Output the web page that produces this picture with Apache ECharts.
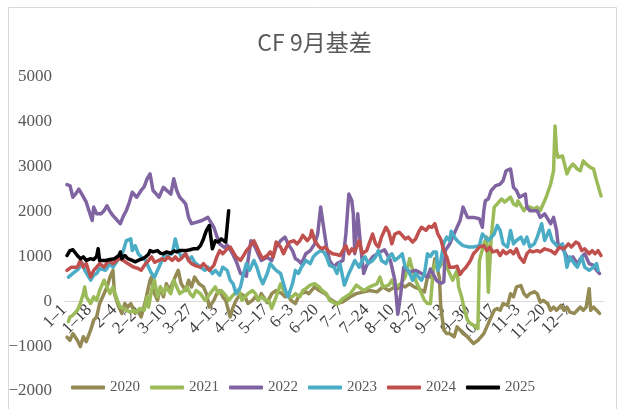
<!DOCTYPE html>
<html><head><meta charset="utf-8">
<script src="https://cdn.jsdelivr.net/npm/echarts@6/dist/echarts.min.js"></script>
<style>html,body{margin:0;padding:0;background:#fff}#c{width:629px;height:409px}</style>
</head><body><div id="c"></div>
<script>
// Category axis: every day of the year, labelled M-D
const monthDays = [31,28,31,30,31,30,31,31,30,31,30,31];
const categories = [];
monthDays.forEach((n, m) => { for (let d = 1; d <= n; d++) categories.push((m + 1) + '-' + d); });

const seriesNames = ['2020', '2021', '2022', '2023', '2024', '2025'];
const yMin = -2000, yMax = 5000, yStep = 1000;

// [day-of-year index, basis value]
const d2020 = [[2,-800],[4,-870],[6,-720],[9,-870],[11,-1010],[13,-790],[15,-900],[18,-640],[20,-420],[22,-350],[24,-50],[27,170],[29,320],[31,540],[33,690],[34,170],[37,-130],[39,-270],[41,-50],[43,-130],[45,-50],[48,-270],[50,-200],[52,-350],[55,20],[57,320],[58,470],[59,540],[61,170],[63,20],[65,320],[67,100],[69,390],[71,240],[74,470],[76,620],[77,690],[79,390],[82,240],[84,470],[86,320],[88,540],[91,390],[94,320],[96,170],[98,-130],[101,20],[103,170],[105,240],[107,100],[109,20],[112,-350],[114,-130],[116,20],[119,170],[122,100],[124,-50],[127,20],[129,100],[131,20],[133,170],[137,-30],[140,170],[143,240],[147,170],[149,100],[151,130],[153,20],[156,-50],[158,100],[160,170],[163,210],[165,170],[169,320],[172,240],[176,170],[179,60],[184,-50],[188,-10],[193,100],[197,170],[202,210],[206,240],[211,210],[215,320],[219,240],[223,320],[225,280],[228,360],[230,320],[233,390],[236,320],[239,280],[243,210],[245,540],[248,540],[250,950],[253,540],[254,-130],[256,-640],[258,-720],[260,-720],[263,-790],[265,-570],[267,-640],[269,-720],[272,-790],[274,-870],[276,-940],[279,-870],[283,-720],[285,-570],[287,-420],[290,-200],[292,-160],[294,-200],[296,-50],[299,-90],[301,170],[303,100],[305,320],[308,350],[310,170],[312,100],[314,170],[317,210],[319,170],[321,-20],[323,20],[326,-50],[328,-200],[330,-130],[332,-200],[335,-90],[337,-200],[339,-130],[341,-240],[344,-270],[346,-200],[348,-130],[350,-200],[352,-130],[354,280],[355,-200],[357,-130],[359,-200],[361,-270]];

const d2021 = [[3,-450],[4,-350],[6,-310],[9,-200],[11,-50],[13,170],[14,320],[15,100],[18,-50],[20,100],[22,20],[24,240],[27,470],[29,320],[31,170],[33,320],[36,20],[38,-130],[40,-160],[42,-200],[45,-240],[47,-200],[49,-240],[51,-160],[54,-200],[56,100],[57,-130],[59,240],[61,470],[63,100],[65,320],[67,170],[69,320],[72,170],[74,470],[76,320],[78,170],[81,240],[83,320],[85,170],[87,100],[89,240],[92,170],[95,20],[97,100],[100,240],[102,320],[104,170],[106,240],[109,130],[111,20],[113,100],[115,170],[118,240],[120,20],[122,100],[124,170],[127,240],[129,170],[131,20],[133,100],[136,20],[138,20],[140,-160],[141,-200],[143,100],[146,390],[148,240],[150,170],[152,100],[154,100],[156,170],[159,100],[161,240],[163,280],[166,360],[169,390],[172,320],[174,240],[177,170],[179,20],[184,-70],[188,60],[193,170],[197,360],[202,240],[206,320],[211,390],[213,540],[215,320],[219,360],[221,470],[223,320],[227,390],[230,540],[233,950],[235,690],[237,470],[239,320],[241,170],[243,20],[245,-50],[247,-50],[249,720],[251,910],[253,760],[256,900],[259,690],[262,470],[265,690],[266,320],[268,100],[270,-200],[272,-420],[274,-500],[276,-530],[279,-610],[280,900],[283,1280],[285,1430],[286,200],[288,1430],[290,2100],[292,2170],[295,2280],[297,2210],[301,2320],[303,2170],[305,2130],[306,2240],[310,2020],[312,2100],[314,2100],[317,2060],[319,2100],[321,2020],[323,2170],[325,2320],[328,2610],[330,2910],[331,3910],[332,3350],[333,3210],[336,3240],[338,2980],[339,2840],[341,2980],[343,3060],[346,2950],[348,2910],[350,3130],[352,3060],[355,2980],[357,2950],[359,2690],[360,2730],[362,2350]];

const d2022 = [[2,2600],[4,2580],[6,2320],[8,2400],[10,2500],[12,2390],[15,2210],[17,2000],[19,1800],[20,2100],[22,1950],[25,1950],[27,2020],[29,2130],[31,2000],[33,1910],[36,1800],[38,1730],[40,1900],[42,2020],[44,2200],[46,2430],[49,2320],[52,2470],[54,2550],[56,2730],[58,2840],[60,2470],[62,2400],[64,2320],[67,2540],[70,2450],[72,2390],[74,2730],[76,2470],[78,2320],[80,2250],[82,2170],[84,1870],[86,1730],[89,1760],[93,1800],[97,1870],[99,1760],[101,1650],[103,1450],[105,1280],[108,1200],[110,1250],[113,1100],[116,900],[119,620],[121,600],[123,560],[124,900],[126,1350],[129,1200],[131,1050],[133,910],[137,980],[140,910],[143,1210],[146,1350],[149,1430],[151,1280],[154,1130],[156,950],[158,910],[160,840],[163,1060],[166,1130],[169,1280],[171,1500],[173,2100],[175,1650],[177,1210],[179,910],[182,760],[184,840],[188,910],[190,1500],[192,2390],[194,2240],[195,1950],[196,1060],[198,1950],[200,1210],[202,620],[204,800],[208,990],[213,1100],[216,1150],[220,910],[223,470],[225,-290],[227,170],[229,760],[233,650],[237,690],[241,620],[245,540],[247,720],[249,600],[251,470],[254,400],[256,430],[257,1130],[260,1280],[264,1580],[267,1800],[269,2100],[272,1870],[276,1870],[280,1840],[282,1650],[283,2020],[284,2240],[286,2280],[288,2470],[291,2580],[294,2610],[296,2690],[298,2910],[301,2950],[303,2540],[305,2470],[307,2320],[311,2390],[312,2100],[314,2020],[319,2020],[321,1870],[324,1950],[328,1730],[330,1870],[332,1580],[333,1280],[337,1130],[339,990],[341,910],[343,990],[346,840],[349,990],[351,1060],[354,840],[357,800],[359,690],[361,620]];

const d2023 = [[3,540],[6,620],[10,730],[12,870],[14,690],[18,470],[20,580],[22,620],[24,730],[28,690],[31,840],[33,760],[36,910],[38,990],[40,1130],[42,1350],[45,1390],[46,1130],[48,1240],[50,1060],[52,990],[55,910],[57,760],[59,620],[61,540],[64,760],[66,910],[68,1060],[70,1020],[73,1060],[75,1390],[77,1130],[79,990],[82,1060],[84,910],[86,990],[88,870],[92,760],[95,690],[97,760],[100,620],[102,690],[105,580],[107,760],[110,690],[112,470],[114,390],[116,170],[119,320],[121,620],[123,840],[125,690],[128,910],[130,760],[132,540],[134,390],[137,620],[139,840],[141,760],[143,690],[146,620],[148,390],[150,170],[151,100],[154,390],[156,690],[158,620],[160,760],[163,910],[166,840],[168,990],[170,1060],[173,1130],[175,1100],[177,990],[179,800],[182,760],[184,620],[186,840],[189,360],[192,620],[194,760],[196,910],[199,760],[201,910],[203,990],[205,840],[208,910],[210,990],[212,1130],[214,910],[217,840],[219,990],[221,1060],[223,910],[226,990],[228,1060],[230,760],[232,690],[235,470],[237,620],[239,540],[241,470],[243,620],[245,1060],[247,1000],[249,1100],[251,1100],[252,690],[254,900],[256,1300],[258,1430],[260,1355],[261,1560],[264,1390],[266,1320],[269,1240],[273,1210],[276,1210],[280,1240],[282,1500],[284,1430],[286,1355],[290,1500],[292,1690],[294,1580],[296,1280],[299,1210],[301,1580],[303,1280],[305,1355],[308,1430],[310,1280],[312,1430],[314,1210],[317,1280],[319,1430],[322,1730],[324,1355],[327,1580],[329,1355],[331,1280],[333,1210],[336,1280],[338,990],[339,760],[341,990],[344,840],[346,760],[349,990],[351,760],[354,690],[357,760],[359,840],[360,690]];

const d2024 = [[2,690],[5,760],[9,760],[11,910],[13,760],[15,840],[18,540],[20,690],[22,760],[24,840],[27,760],[30,910],[33,840],[37,950],[40,910],[43,840],[47,760],[50,730],[52,690],[55,840],[57,910],[59,990],[61,870],[64,910],[66,950],[68,910],[70,990],[73,910],[75,990],[77,910],[79,950],[82,1060],[84,910],[86,840],[89,790],[92,760],[94,840],[96,760],[98,690],[101,800],[103,990],[105,1130],[107,1060],[110,1170],[112,1210],[114,1100],[116,990],[119,910],[121,1020],[123,1130],[125,1210],[128,1350],[130,1210],[132,1060],[134,950],[137,1020],[139,1100],[141,990],[143,1320],[146,1210],[148,1060],[150,1210],[152,1320],[155,1350],[157,1280],[159,1350],[161,1470],[164,1350],[166,1430],[167,1580],[169,1350],[172,1210],[174,1170],[176,1210],[178,1130],[181,1060],[183,1050],[186,1020],[190,1240],[192,1060],[194,1170],[196,1100],[199,1350],[201,1060],[204,1130],[208,1500],[210,1280],[212,1210],[214,1430],[217,1650],[219,1540],[221,1280],[223,1500],[226,1540],[228,1470],[230,1390],[232,1430],[235,1320],[237,1390],[239,1540],[241,1650],[244,1580],[246,1670],[248,1650],[250,1730],[252,1500],[254,1380],[256,1130],[258,985],[260,760],[263,760],[265,780],[267,600],[269,690],[271,760],[274,910],[276,1060],[278,1130],[280,1210],[283,1240],[285,1130],[287,1210],[289,1100],[292,1130],[294,1020],[296,1130],[298,1060],[301,1130],[303,1060],[305,1170],[307,990],[310,870],[312,1060],[314,1130],[316,1100],[319,1130],[321,1100],[324,1170],[328,1130],[331,1060],[334,1210],[337,1170],[340,1280],[342,1210],[345,1320],[347,1280],[349,1130],[351,1170],[354,1060],[356,1130],[358,1060],[360,1130],[362,1020]];

const d2025 = [[2,1020],[4,1130],[6,1150],[9,1020],[11,950],[13,990],[15,910],[18,950],[20,930],[22,1000],[23,1170],[24,910],[28,910],[31,930],[34,950],[37,1020],[38,1100],[39,950],[41,1020],[43,950],[46,910],[48,880],[50,910],[53,950],[55,990],[57,1050],[58,1130],[60,1100],[63,1130],[65,1070],[67,1060],[69,1100],[72,1070],[74,1120],[76,1100],[78,1130],[82,1130],[85,1150],[87,1170],[90,1170],[92,1240],[94,1390],[96,1580],[98,1690],[100,1170],[102,1350],[104,1320],[106,1390],[109,1320],[110,1330],[111,2020]];

const seriesData = [d2020, d2021, d2022, d2023, d2024, d2025];
const colors = ['#948A54', '#9BBB59', '#8064A2', '#4BACC6', '#C0504D', '#000000'];

const gridTop = 77, gridBottom = 18, chartH = 409;
const plotH = chartH - gridTop - gridBottom;
// move the category axis up to the zero line (Excel "axis crosses at 0")
const zeroOffset = -plotH * (0 - yMin) / (yMax - yMin);

const chart = echarts.init(document.getElementById('c'), null, {renderer: 'canvas'});
chart.setOption({
  animation: false,
  title: {
    text: 'CF 9月基差', left: 'center', top: 26,
    textStyle: {fontFamily: 'Noto Sans CJK SC', fontSize: 23, fontWeight: 'normal', color: '#595959'}
  },
  graphic: [{
    type: 'rect', silent: true, z: -10,
    shape: {x: 8.5, y: 7.5, width: 608, height: 430},
    style: {fill: 'none', stroke: '#D9D9D9', lineWidth: 1}
  }],
  legend: {
    data: seriesNames, left: 66, top: 375, icon: 'roundRect',
    itemWidth: 34, itemHeight: 4, itemGap: 10,
    textStyle: {fontFamily: 'Liberation Serif', fontSize: 15, color: '#595959'}
  },
  grid: {left: 64, right: 25, top: gridTop, bottom: gridBottom, containLabel: false, outerBoundsMode: 'none'},
  xAxis: {
    type: 'category', data: categories, boundaryGap: false,
    position: 'bottom', offset: zeroOffset,
    axisLine: {onZero: false, lineStyle: {color: '#D9D9D9', width: 1}},
    axisTick: {show: false},
    axisLabel: {
      interval: 16, rotate: 45, margin: 6, showMaxLabel: false,
      fontFamily: 'Liberation Serif', fontSize: 17, color: '#404040',
      formatter: v => v.replace('-', '–')
    },
    splitLine: {show: false}
  },
  yAxis: {
    type: 'value', min: yMin, max: yMax, interval: yStep,
    axisLine: {show: false}, axisTick: {show: false}, splitLine: {show: false},
    axisLabel: {
      fontFamily: 'Liberation Serif', fontSize: 17, color: '#595959', margin: 12,
      formatter: v => String(v).replace('-', '−')
    }
  },
  series: seriesNames.map((name, i) => ({
    name, type: 'line', data: seriesData[i], showSymbol: false, symbol: 'none',
    lineStyle: {width: 3.5, color: colors[i], cap: 'round', join: 'round'},
    itemStyle: {color: colors[i]},
    z: 2 + i
  }))
});
</script></body></html>
